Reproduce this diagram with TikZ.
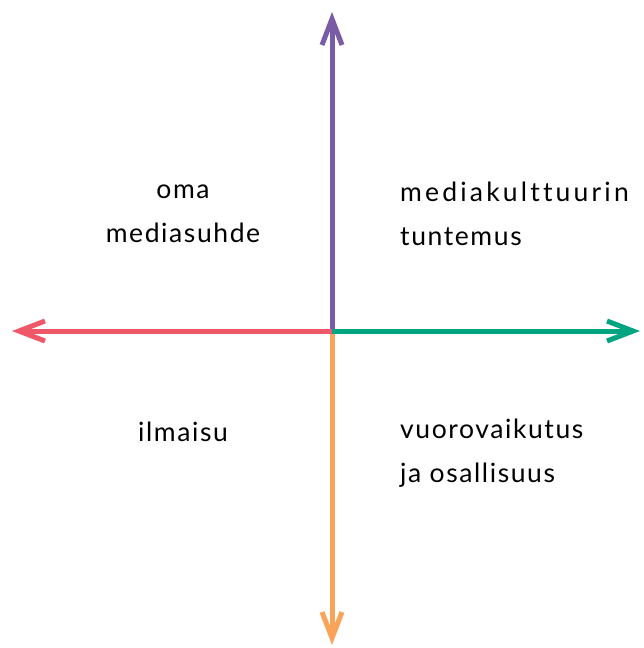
\documentclass[tikz,border=0pt]{standalone}
\usepackage{fontspec}
\setmainfont{Lato}[LetterSpace=6, Ligatures=NoCommon]
\usetikzlibrary{positioning, arrows.meta}
\definecolor{axpurple}{HTML}{7A5BA6}
\definecolor{axred}{HTML}{EE5868}
\definecolor{axgreen}{HTML}{00A481}
\definecolor{axorange}{HTML}{F9A458}

\begin{document}
\begin{tikzpicture}[
      x=1pt, y=-1pt,
      every node/.style={font=\fontsize{26.5}{44}\selectfont, inner sep=0pt},
      lbl/.style={align=center, anchor=center},
      lblr/.style={align=left, anchor=west},
      axis/.style={line width=5pt, -{Straight Barb[length=26pt, width=20pt, line width=5pt]}},
    ]
    \useasboundingbox (0,0) rectangle (643,648);
    \coordinate (o) at (332,331);
    \coordinate (top) at (332,12);
    \coordinate (bot) at (332,645);
    \coordinate (left) at (12,331);
    \coordinate (right) at (640,331);

    \draw[axis, axpurple] (o) -- (top);
    \draw[axis, axorange] (o) -- (bot);
    \draw[axis, axred] (o) -- (left);
    \draw[axis, axgreen] (o) -- (right);

    \node[lbl] (own) at (183,214) {oma\\mediasuhde};
    \node[lblr] (culture) at (400,214) {{\addfontfeature{LetterSpace=12}mediakulttuurin}\\tuntemus};
    \node[lbl] (expr) at (183,432) {ilmaisu};
    \node[lblr] (inter) at (400,453) {vuorovaikutus\\ja osallisuus};
  \end{tikzpicture}
\end{document}
